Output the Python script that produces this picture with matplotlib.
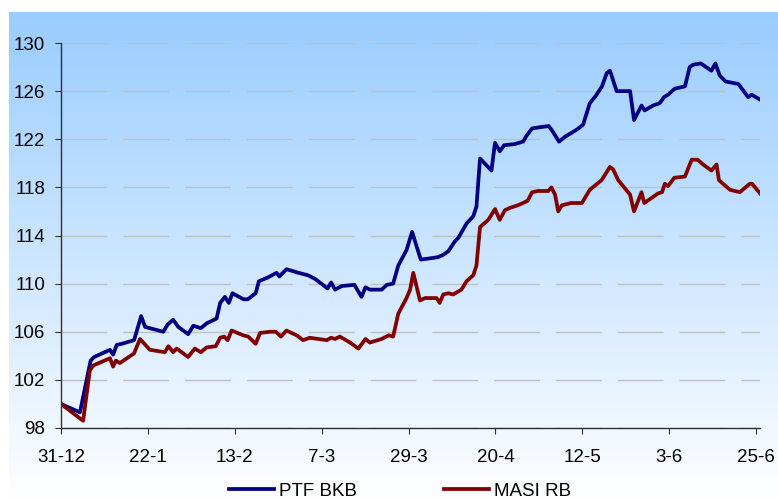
import matplotlib
matplotlib.use('Agg')
import matplotlib.pyplot as plt
import numpy as np

plt.rcParams['font.family'] = ['Liberation Sans', 'DejaVu Sans']

# days since 31-12 and index levels
ptf_days = [0, 4.8, 7.5, 8.4, 12.4, 13.2, 14.1, 15.4, 18.5, 20.3, 21.3, 25.9, 27.0, 28.4, 29.7,
            32.2, 33.5, 35.4, 36.9, 39.4, 40.3, 41.5, 42.5, 43.4, 46.2, 47.3, 49.3, 50.1, 52.3,
            54.6, 55.3, 57.1, 60.1, 62.5, 64.3, 67.5, 68.4, 69.4, 71.1, 74.3, 76.1, 77.1, 78.2,
            81.2, 82.5, 84.1, 85.4, 87.5, 88.9, 91.1, 93.4, 95.5, 96.8, 98.1, 99.7, 100.6, 102.7,
            104.4, 105.2, 106.1, 109.0, 109.9, 111.1, 112.2, 114.9, 117.0, 117.9, 119.3, 121.3,
            123.5, 124.6, 126.1, 127.6, 129.1, 130.6, 132.2, 133.9, 135.4, 137.0, 138.2, 139.0,
            140.7, 144.1, 145.1, 147.0, 147.8, 149.9, 151.6, 152.7, 153.7, 155.4, 158.0, 159.2,
            160.1, 162.0, 164.7, 165.7, 166.8, 168.3, 171.5, 174.0, 174.9, 177.0]
ptf_bkb = [100.0, 99.3, 103.6, 103.9, 104.5, 104.1, 104.9, 105.0, 105.3, 107.3, 106.4, 106.0,
           106.6, 107.0, 106.4, 105.8, 106.5, 106.3, 106.7, 107.1, 108.4, 108.9, 108.4, 109.2,
           108.7, 108.7, 109.2, 110.2, 110.5, 110.9, 110.6, 111.2, 110.9, 110.7, 110.4, 109.6,
           110.1, 109.5, 109.8, 109.9, 108.9, 109.7, 109.5, 109.5, 109.9, 110.0, 111.5, 112.8,
           114.3, 112.0, 112.1, 112.2, 112.4, 112.7, 113.5, 113.8, 115.0, 115.6, 116.4, 120.4,
           119.4, 121.7, 121.0, 121.5, 121.6, 121.8, 122.3, 122.9, 123.0, 123.1, 122.6, 121.8,
           122.2, 122.5, 122.8, 123.2, 125.0, 125.6, 126.4, 127.5, 127.7, 126.0, 126.0, 123.6,
           124.8, 124.4, 124.8, 125.0, 125.5, 125.7, 126.2, 126.4, 128.0, 128.2, 128.3, 127.7,
           128.3, 127.3, 126.8, 126.6, 125.5, 125.7, 125.3]

masi_days = [0, 5.6, 7.3, 8.2, 12.4, 13.2, 13.9, 14.9, 18.5, 20.0, 22.5, 26.3, 27.2, 28.4, 29.3,
             32.2, 33.9, 35.4, 36.9, 39.2, 40.3, 41.3, 42.2, 43.2, 46.2, 47.4, 49.3, 50.4, 52.9,
             54.4, 55.7, 57.1, 59.7, 61.3, 63.0, 67.3, 68.4, 69.4, 70.6, 73.2, 75.3, 77.1, 78.2,
             81.2, 83.0, 84.1, 85.4, 87.5, 88.4, 89.2, 90.9, 92.2, 95.1, 95.9, 96.8, 98.1, 99.3,
             101.4, 102.7, 104.4, 105.2, 106.1, 108.2, 109.9, 111.1, 112.4, 113.7, 115.6, 117.0,
             118.2, 119.3, 120.8, 123.4, 124.2, 125.1, 125.9, 126.8, 129.1, 131.9, 133.9, 136.9,
             139.0, 139.8, 141.1, 144.1, 145.1, 147.0, 147.7, 151.2, 152.2, 152.9, 153.7, 155.3,
             158.0, 159.7, 161.2, 162.6, 164.7, 166.0, 166.6, 169.4, 171.9, 174.4, 175.0, 177.0]
masi_rb = [100.0, 98.6, 102.8, 103.2, 103.8, 103.1, 103.6, 103.4, 104.2, 105.4, 104.5, 104.3,
           104.8, 104.3, 104.6, 103.9, 104.6, 104.3, 104.7, 104.8, 105.5, 105.6, 105.3, 106.1,
           105.7, 105.6, 105.0, 105.9, 106.0, 106.0, 105.6, 106.1, 105.7, 105.3, 105.5, 105.3,
           105.5, 105.4, 105.6, 105.1, 104.6, 105.4, 105.1, 105.4, 105.7, 105.6, 107.5, 108.8,
           109.5, 110.9, 108.6, 108.8, 108.8, 108.4, 109.1, 109.2, 109.1, 109.5, 110.2, 110.7,
           111.5, 114.7, 115.3, 116.2, 115.3, 116.1, 116.3, 116.5, 116.7, 116.9, 117.6, 117.7,
           117.7, 118.0, 117.4, 116.0, 116.5, 116.7, 116.7, 117.8, 118.6, 119.7, 119.5, 118.6,
           117.4, 116.0, 117.6, 116.7, 117.5, 117.6, 118.3, 118.1, 118.8, 118.9, 120.3, 120.3,
           119.9, 119.4, 119.9, 118.6, 117.8, 117.6, 118.3, 118.3, 117.5]

tick_days = [0, 22, 44, 66, 88, 110, 132, 154, 176]
tick_labels = ['31-12', '22-1', '13-2', '7-3', '29-3', '20-4', '12-5', '3-6', '25-6']
y_ticks = [98, 102, 106, 110, 114, 118, 122, 126, 130]

W, H = 778, 499
fig = plt.figure(figsize=(W / 100, H / 100), dpi=100)

# gradient backdrop behind the plot
bg = fig.add_axes([9 / W, 0, 1 - 9 / W, 1 - 12 / H], zorder=0)
top = np.array([0x99, 0xCC, 0xFF]) / 255
bot = np.array([1.0, 1.0, 1.0])
t = np.linspace(0, 1, 256)[:, None]
grad = top * (1 - t) + bot * t
bg.imshow(grad[:, None, :], aspect='auto', extent=[0, 1, 0, 1])
bg.axis('off')

ax = fig.add_axes([61 / W, 1 - 428 / H, (760 - 61) / W, (428 - 43) / H], zorder=1)
ax.patch.set_alpha(0)

ax.plot(ptf_days, ptf_bkb, color='#000080', lw=2.7, label='PTF BKB', solid_joinstyle='round')
ax.plot(masi_days, masi_rb, color='#800000', lw=2.7, label='MASI RB', solid_joinstyle='round')

ax.set_xlim(0, 177)
ax.set_ylim(98, 130)
ax.set_xticks(tick_days)
ax.set_xticklabels(tick_labels)
ax.set_yticks(y_ticks)
ax.yaxis.grid(True, color='#C0C0C0', lw=1, linestyle=(0, (33, 11.5)))
ax.set_axisbelow(True)

for s in ['top', 'right']:
    ax.spines[s].set_visible(False)
for s in ['left', 'bottom']:
    ax.spines[s].set_color('#303030')
    ax.spines[s].set_linewidth(1)
ax.tick_params(axis='y', length=4.5, pad=7, labelsize=13.5, color='#303030')
ax.tick_params(axis='x', length=4, pad=11, labelsize=13.5, color='#303030')

fig.legend(loc='center', bbox_to_anchor=(400 / W, 1 - 491 / H), ncol=2, frameon=False,
           fontsize=13.5, handlelength=2.4, handletextpad=0.3, columnspacing=4.6)

plt.savefig('out.png', dpi=100)
